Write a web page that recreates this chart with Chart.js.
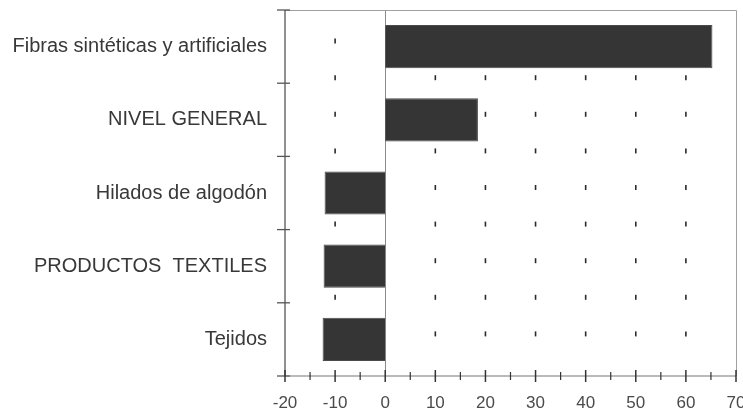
<!DOCTYPE html>
<html><head><meta charset="utf-8">
<script src="https://cdn.jsdelivr.net/npm/chart.js@4/dist/chart.umd.min.js"></script>
<style>html,body{margin:0;padding:0;background:#fff}#wrap{width:743px;height:413px}</style>
</head><body><div id="wrap"><canvas id="c" width="743" height="413"></canvas></div>
<script>
const categories = ["Fibras sintéticas y artificiales","NIVEL GENERAL","Hilados de algodón","PRODUCTOS  TEXTILES","Tejidos"];
const values = [65.3, 18.5, -12.1, -12.3, -12.5];
const xMin = -20, xMax = 70, xStep = 10, xMinorStep = 5;
const dashValues = [-10, 10, 20, 30, 40, 50, 60];

const framePlugin = {
  id: 'frame',
  beforeDatasetsDraw(chart) {
    const ctx = chart.ctx, x = chart.scales.x, y = chart.scales.y, a = chart.chartArea;
    ctx.save();
    ctx.strokeStyle = '#8a8a8a'; ctx.lineWidth = 1;
    const x0 = Math.round(x.getPixelForValue(0)) + 0.5;
    ctx.beginPath(); ctx.moveTo(x0, a.top); ctx.lineTo(x0, a.bottom); ctx.stroke();
    ctx.strokeStyle = '#2a2a2a'; ctx.lineWidth = 1.6;
    const n = categories.length;
    const rows = [];
    for (let i = 0; i < n; i++) {
      rows.push(y.getPixelForValue(i));
      if (i < n - 1) rows.push((y.getPixelForValue(i) + y.getPixelForValue(i + 1)) / 2);
    }
    dashValues.forEach(v => {
      const px = x.getPixelForValue(v);
      rows.forEach(r => {
        ctx.beginPath(); ctx.moveTo(px, r - 8); ctx.lineTo(px, r - 3); ctx.stroke();
      });
    });
    ctx.restore();
  },
  afterDraw(chart) {
    const ctx = chart.ctx, x = chart.scales.x, y = chart.scales.y, a = chart.chartArea;
    ctx.save();
    ctx.strokeStyle = '#a0a0a0'; ctx.lineWidth = 1;
    ctx.beginPath();
    ctx.moveTo(a.left, a.top + 0.5); ctx.lineTo(a.right + 0.5, a.top + 0.5); ctx.lineTo(a.right + 0.5, a.bottom);
    ctx.stroke();
    ctx.strokeStyle = '#555'; ctx.lineWidth = 1.3;
    ctx.beginPath(); ctx.moveTo(a.left, a.top); ctx.lineTo(a.left, a.bottom); ctx.stroke();
    const n = categories.length;
    const bounds = [a.top];
    for (let i = 0; i < n - 1; i++) bounds.push((y.getPixelForValue(i) + y.getPixelForValue(i + 1)) / 2);
    bounds.push(a.bottom);
    bounds.forEach(b => { ctx.beginPath(); ctx.moveTo(a.left - 8, b); ctx.lineTo(a.left + 5, b); ctx.stroke(); });
    ctx.strokeStyle = '#777'; ctx.lineWidth = 1.2;
    ctx.beginPath(); ctx.moveTo(a.left, a.bottom); ctx.lineTo(a.right, a.bottom); ctx.stroke();
    ctx.strokeStyle = '#333';
    for (let v = xMin; v <= xMax; v += xMinorStep) {
      const px = x.getPixelForValue(v);
      const major = (v % xStep) === 0;
      ctx.lineWidth = major ? 1.5 : 1.2;
      ctx.beginPath();
      ctx.moveTo(px, a.bottom - (major ? 6 : 4));
      ctx.lineTo(px, a.bottom + (major ? 6 : 4));
      ctx.stroke();
    }
    ctx.restore();
  }
};

function zeroPad(s) { s.paddingLeft = 0; s.paddingRight = 0; s.paddingTop = 0; s.paddingBottom = 0; }

new Chart(document.getElementById('c'), {
  type: 'bar',
  data: {
    labels: categories,
    datasets: [{
      data: values,
      backgroundColor: '#353535',
      borderColor: '#4a4a4a',
      borderWidth: 1,
      barPercentage: 0.59,
      categoryPercentage: 1
    }]
  },
  options: {
    indexAxis: 'y',
    responsive: false,
    animation: false,
    layout: { padding: { top: 10, right: 7, left: 0, bottom: 0 } },
    plugins: { legend: { display: false }, tooltip: { enabled: false } },
    scales: {
      x: {
        min: xMin, max: xMax,
        grid: { display: false, drawTicks: false },
        border: { display: false },
        ticks: { stepSize: xStep, padding: 17, color: '#4a4a4a', font: { family: 'Liberation Sans', size: 17 }, maxRotation: 0, autoSkip: false },
        afterFit(s) { s.height = 37; zeroPad(s); }
      },
      y: {
        grid: { display: false, drawTicks: false },
        border: { display: false },
        ticks: { padding: 18, color: '#383838', font: { family: 'Liberation Sans', size: 20 }, autoSkip: false },
        afterFit(s) { s.width = 285; zeroPad(s); }
      }
    }
  },
  plugins: [framePlugin]
});
</script></body></html>
